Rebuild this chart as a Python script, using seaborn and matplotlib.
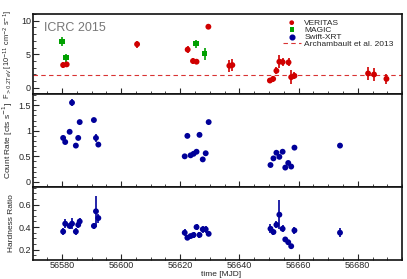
import numpy as np
import pandas as pd
import matplotlib.pyplot as plt
from matplotlib.ticker import MultipleLocator
import seaborn as sns

# VERITAS flux > 0.2 TeV [1e-11 cm^-2 s^-1]
ver_t = [56580.4, 56581.6, 56605.4, 56622.5, 56624.3, 56625.5, 56629.5, 56636.6, 56637.6,
         56650.3, 56651.4, 56652.5, 56653.5, 56654.6, 56656.6, 56657.5, 56658.6,
         56683.5, 56685.5, 56689.7]
ver_f = [3.4, 3.5, 6.5, 5.7, 4.0, 3.9, 9.1, 3.3, 3.4,
         1.1, 1.35, 2.55, 3.9, 3.85, 3.8, 1.6, 1.8,
         2.15, 2.0, 1.35]
ver_e = [0.4, 0.4, 0.5, 0.5, 0.4, 0.4, 0.4, 0.9, 0.9,
         0.4, 0.4, 0.5, 1.0, 0.6, 0.6, 1.0, 0.5,
         0.9, 0.9, 0.7]

# MAGIC
mag_t = [56580.1, 56581.3, 56625.3, 56628.2]
mag_f = [6.9, 4.5, 6.6, 5.1]
mag_e = [0.6, 0.6, 0.6, 0.9]

archambault = 1.9

# Swift-XRT count rate and hardness ratio
xrt_t = [56580.4, 56581.1, 56582.6, 56583.4, 56584.7, 56585.5, 56586.0,
         56590.8, 56591.5, 56592.3,
         56621.5, 56622.4, 56623.5, 56624.5, 56625.5, 56626.5, 56627.6, 56628.6, 56629.6,
         56650.5, 56651.5, 56652.5, 56653.5, 56654.6, 56655.5, 56656.5, 56657.5, 56658.6,
         56674.0]
xrt_rate = [0.86, 0.78, 0.98, 1.55, 0.71, 0.86, 1.17,
            1.21, 0.86, 0.73,
            0.50, 0.90, 0.52, 0.55, 0.59, 0.92, 0.44, 0.56, 1.17,
            0.33, 0.46, 0.57, 0.49, 0.59, 0.28, 0.37, 0.30, 0.67,
            0.71]
xrt_rate_e = [0.03, 0.03, 0.03, 0.07, 0.03, 0.03, 0.03,
              0.03, 0.08, 0.03,
              0.02, 0.03, 0.02, 0.02, 0.02, 0.03, 0.02, 0.02, 0.03,
              0.02, 0.02, 0.02, 0.02, 0.02, 0.02, 0.02, 0.02, 0.03,
              0.03]
xrt_hr = [0.36, 0.43, 0.41, 0.43, 0.36, 0.42, 0.45,
          0.41, 0.54, 0.48,
          0.35, 0.305, 0.32, 0.33, 0.40, 0.33, 0.38, 0.38, 0.34,
          0.385, 0.356, 0.42, 0.51, 0.385, 0.29, 0.265, 0.23, 0.37,
          0.35]
xrt_hr_e = [0.03, 0.04, 0.03, 0.05, 0.03, 0.03, 0.03,
            0.03, 0.14, 0.04,
            0.03, 0.02, 0.02, 0.03, 0.03, 0.03, 0.03, 0.03, 0.02,
            0.04, 0.03, 0.03, 0.13, 0.03, 0.02, 0.02, 0.02, 0.03,
            0.04]

ver = pd.DataFrame({"t": ver_t, "f": ver_f})
mag = pd.DataFrame({"t": mag_t, "f": mag_f})
xrt = pd.DataFrame({"t": xrt_t, "rate": xrt_rate, "hr": xrt_hr})

red = "#d00000"
green = "#00a000"
blue = "#000099"

sns.set_style("ticks")
plt.rcParams["font.family"] = ["Liberation Sans", "DejaVu Sans"]
plt.rcParams["xtick.direction"] = "in"
plt.rcParams["ytick.direction"] = "in"

fig, axes = plt.subplots(3, 1, figsize=(4.07, 2.79), dpi=100, sharex=True,
                         gridspec_kw={"height_ratios": [80, 93, 73], "hspace": 0})
fig.subplots_adjust(left=0.081, right=0.988, top=0.95, bottom=0.068)
ax1, ax2, ax3 = axes

# flux panel
ax1.axhline(archambault, color=red, ls=(0, (4, 3)), lw=0.8, alpha=0.8,
            label="Archambault et al. 2013", zorder=1)
ax1.errorbar(ver_t, ver_f, yerr=ver_e, xerr=0.3, fmt="none", ecolor=red, elinewidth=1.2)
ax1.errorbar(mag_t, mag_f, yerr=mag_e, xerr=0.3, fmt="none", ecolor=green, elinewidth=1.2)
sns.scatterplot(data=ver, x="t", y="f", ax=ax1, color=red, marker="o", s=18,
                edgecolor="none", label="VERITAS", zorder=3)
sns.scatterplot(data=mag, x="t", y="f", ax=ax1, color=green, marker="s", s=16,
                edgecolor="none", label="MAGIC", zorder=3)
ax1.scatter([], [], color=blue, marker="o", s=18, label="Swift-XRT")
ax1.set_ylim(-0.9, 11)
ax1.yaxis.set_major_locator(MultipleLocator(5))
ax1.yaxis.set_minor_locator(MultipleLocator(1))
ax1.set_ylabel(r"F$_{>0.2 TeV}$ [10$^{-11}$ cm$^{-2}$ s$^{-1}$]", fontsize=5.3)
ax1.text(0.03, 0.9, "ICRC 2015", transform=ax1.transAxes, fontsize=9,
         color="#777777", va="top")
h, l = ax1.get_legend_handles_labels()
order = [l.index(n) for n in ["VERITAS", "MAGIC", "Swift-XRT", "Archambault et al. 2013"]]
ax1.legend([h[i] for i in order], [l[i] for i in order], loc="upper right",
           bbox_to_anchor=(0.995, 1.02), frameon=False, fontsize=6, handlelength=2.2,
           labelspacing=-0.1, borderpad=0.3, handletextpad=0.4, markerscale=0.8)

# count rate panel
ax2.errorbar(xrt_t, xrt_rate, yerr=xrt_rate_e, fmt="none", ecolor=blue, elinewidth=1.2)
sns.scatterplot(data=xrt, x="t", y="rate", ax=ax2, color=blue, s=18,
                edgecolor="none", zorder=3)
ax2.set_ylim(-0.1, 1.72)
ax2.yaxis.set_minor_locator(MultipleLocator(0.1))
ax2.set_yticks([0, 0.5, 1, 1.5], ["0", "0.5", "1", "1.5"])
ax2.set_ylabel(r"Count Rate [cts s$^{-1}$]", fontsize=6)

# hardness ratio panel
ax3.errorbar(xrt_t, xrt_hr, yerr=xrt_hr_e, fmt="none", ecolor=blue, elinewidth=1.2)
sns.scatterplot(data=xrt, x="t", y="hr", ax=ax3, color=blue, s=18,
                edgecolor="none", zorder=3)
ax3.set_ylim(0.107, 0.756)
ax3.yaxis.set_major_locator(MultipleLocator(0.2))
ax3.yaxis.set_minor_locator(MultipleLocator(0.05))
ax3.set_ylabel("Hardness Ratio", fontsize=6)

ax3.set_xlim(56570.2, 56695)
ax3.xaxis.set_major_locator(MultipleLocator(20))
ax3.xaxis.set_minor_locator(MultipleLocator(5))
ax3.xaxis.set_major_formatter(plt.FuncFormatter(lambda v, p: f"{int(round(v))}"))

for ax in axes:
    for sp in ax.spines.values():
        sp.set_visible(True)
        sp.set_linewidth(1.2)
        sp.set_color("#111111")
    ax.tick_params(which="major", length=4, width=0.8, labelsize=6.5, pad=1.5)
    ax.tick_params(which="minor", length=2, width=0.6)
    ax.tick_params(axis="x", top=False, pad=0.5)
    ax.yaxis.set_label_coords(-0.05, 0.5)
    ax.set_xlabel("")

ax3.set_xlabel("time [MJD]", fontsize=6)
ax3.xaxis.set_label_coords(0.51, -0.155)

fig.savefig("out.png", dpi=100)
